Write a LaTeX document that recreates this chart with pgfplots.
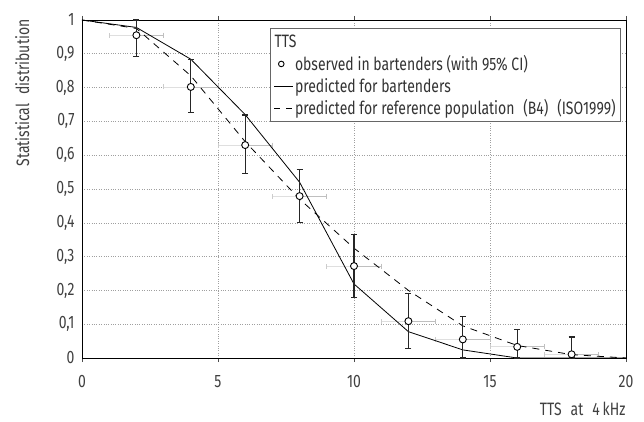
\documentclass[border=0pt]{standalone}
\usepackage{pgfplots}
\pgfplotsset{compat=1.18}
\usepackage{fontspec}
\setmainfont{Fira Sans}[FakeStretch=0.78]
\newcommand\chartfont{\fontsize{18}{21}\selectfont}

\pgfplotsset{
  short line legend/.style={legend image code/.code={\draw[##1] (0cm,0cm) -- (0.65cm,0cm);}},
  mark legend/.style={legend image code/.code={\draw[##1] plot coordinates {(0.25cm,0cm)};}},
  title legend/.style={legend image code/.code={%
    \node[overlay, draw=none, anchor=west, inner sep=0pt, text=black!80] at (0cm,0cm) {TTS};}},
}

\begin{document}
\begin{tikzpicture}[font=\chartfont]

\begin{axis}[
  name=ax,
  scale only axis,
  width=544bp,
  height=338bp,
  font=\chartfont,
  xmin=0, xmax=20,
  ymin=0, ymax=1,
  xtick={0,5,10,15,20},
  ytick={0,0.1,0.2,0.3,0.4,0.5,0.6,0.7,0.8,0.9,1},
  grid=major,
  grid style={dotted, gray!75, line width=0.6bp},
  axis line style={line width=0.7bp},
  xtick style={draw=black!70, line width=0.6bp},
  ytick style={draw=none},
  tick align=outside,
  major tick length=4bp,
  tick label style={text=black!75},
  xticklabel style={yshift=-10bp},
  /pgf/number format/use comma,
  /pgf/number format/assume math mode=true,
  xlabel={TTS\enspace at\enspace 4\,kHz},
  xlabel style={at={(axis description cs:1,0)}, anchor=east, yshift=-51bp, xshift=3bp, text=black!75},
  ylabel={Statistical\enspace distribution},
  ylabel style={at={(axis description cs:-0.110,0.784)}, anchor=center, text=black!75},
  legend style={draw=black!60, line width=0.8bp, at={(0.991,0.976)}, anchor=north east,
    cells={anchor=west}, row sep=2bp, inner xsep=3bp, inner ysep=3bp, text=black!80},
]

% legend entries
\addlegendimage{title legend}
\addlegendentry{\strut}
\addlegendimage{only marks, mark=*, mark size=2.8bp, mark options={fill=white, draw=black, line width=0.9bp}, mark legend}
\addlegendentry{observed in bartenders (with 95\% CI)}
\addlegendimage{black, line width=0.8bp, short line legend}
\addlegendentry{predicted for bartenders}
\addlegendimage{black, line width=0.8bp, dash pattern=on 6bp off 6bp, short line legend}
\addlegendentry{predicted for reference population\enspace(B4)\enspace(ISO1999)}

% horizontal bin bars (grey)
\addplot[forget plot, only marks, mark=none,
  error bars/.cd, x dir=minus, x explicit,
  error bar style={draw=gray!25, line width=0.8bp},
  error mark options={draw=gray!40, rotate=90, mark size=2.5bp, line width=0.8bp}]
  table[x=x, y=y, x error=ex] {
x y ex
2 0.955 1
4 0.802 1
6 0.630 1
8 0.479 1
10 0.272 1
12 0.109 1
14 0.055 1
16 0.033 1
18 0.011 1
};
\addplot[forget plot, only marks, mark=none,
  error bars/.cd, x dir=plus, x explicit,
  error bar style={draw=gray!50, line width=0.8bp},
  error mark options={draw=gray!50, rotate=90, mark size=2.5bp, line width=0.8bp}]
  table[x=x, y=y, x error=ex] {
x y ex
2 0.955 1
4 0.802 1
6 0.630 1
8 0.479 1
10 0.272 1
12 0.109 1
14 0.055 1
16 0.033 1
18 0.011 1
};

% predicted for reference population
\addplot[forget plot, black, line width=0.8bp, dash pattern=on 7bp off 6bp] coordinates {
  (0,1) (2,0.975) (4,0.835) (6,0.640) (8,0.470) (10,0.325)
  (12,0.200) (14,0.095) (16,0.037) (18,0.010) (20,0.0)
};

% predicted for bartenders
\addplot[forget plot, black, line width=0.8bp] coordinates {
  (0,1) (2,0.978) (4,0.884) (6,0.720) (8,0.520) (10,0.219)
  (12,0.078) (14,0.024) (16,0.0) (20,0.0)
};

% observed in bartenders with 95% CI
\addplot[forget plot, only marks, mark=*, mark size=3.5bp,
  mark options={fill=white, draw=black, line width=0.9bp},
  error bars/.cd, y dir=both, y explicit,
  error bar style={draw=black!85, line width=1.1bp},
  error mark options={draw=black!85, rotate=90, mark size=3bp, line width=1.1bp}]
  table[x=x, y=y, y error plus=ep, y error minus=em] {
x y ep em
2 0.955 0.045 0.064
4 0.802 0.082 0.077
6 0.630 0.089 0.084
8 0.479 0.079 0.079
10 0.272 0.093 0.094
12 0.109 0.083 0.082
14 0.055 0.068 0.055
16 0.033 0.050 0.033
18 0.011 0.051 0.011
};

\end{axis}

\pgfresetboundingbox
\path ([shift={(-82bp,-64bp)}]ax.south west) rectangle ([shift={(18bp,20bp)}]ax.north east);
\end{tikzpicture}
\end{document}
